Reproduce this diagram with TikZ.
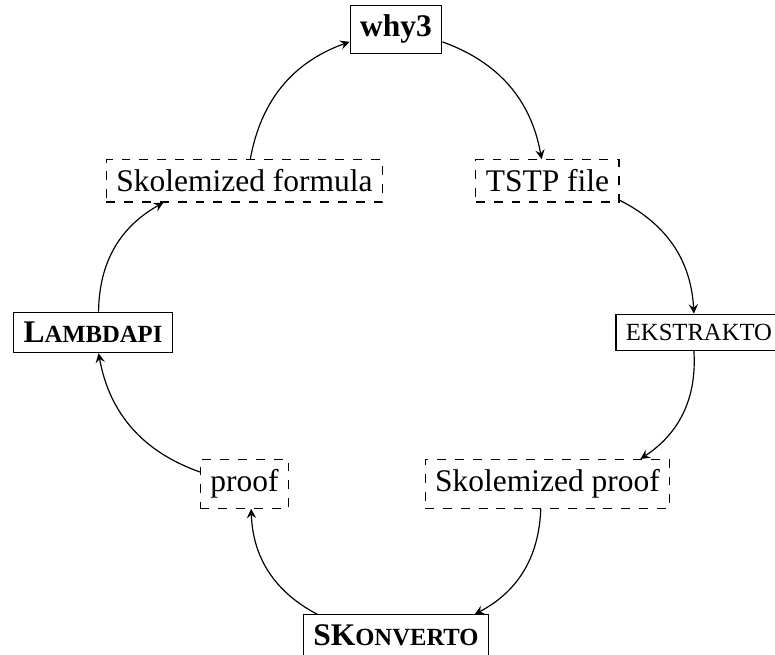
\documentclass[tikz,border=0pt]{standalone}
\usepackage{fontspec}
\setmainfont{Liberation Serif}
\usepackage{tikz}
\usetikzlibrary{arrows, positioning}

% small capitals drawn from scaled capitals
\newcommand{\smcaps}[1]{{\fontsize{8.3}{10}\selectfont #1}}

\begin{document}
\begin{tikzpicture}[->,>=stealth,node distance=51pt and 51pt,on grid,
  every node/.style={font=\fontsize{10.6}{13}\selectfont},
  tool node/.style={draw},
  file node/.style={draw,dashed}]

  \useasboundingbox (-133.3pt,9.9pt) rectangle (127.6pt,-210.3pt);

  \node[tool node] (why3) {\textbf{why3}};
  \node[file node] (formula) [below left=of why3] {Skolemized formula};
  \node[file node] (tstp) [below right=of why3] {TSTP file};
  \node[tool node] (lambdapi) [below left=of formula] {\textbf{L\smcaps{AMBDAPI}}};
  \node[tool node] (ekstrakto) [below right=of tstp] {\smcaps{EKSTRAKTO}};
  \node[file node] (proof) [below right=of lambdapi] {proof};
  \node[file node] (skproof) [below left=of ekstrakto] {Skolemized proof};
  \node[tool node] (skonverto) [below right=of proof] {\textbf{SK\smcaps{ONVERTO}}};

  \path
    (formula) edge[bend left] (why3)
    (why3) edge[bend left] (tstp)
    (tstp) edge[bend left] (ekstrakto)
    (ekstrakto) edge[bend left] (skproof)
    (skproof) edge[bend left] (skonverto)
    (skonverto) edge[bend left] (proof)
    (proof) edge[bend left] (lambdapi)
    (lambdapi) edge[bend left] (formula);
\end{tikzpicture}
\end{document}
